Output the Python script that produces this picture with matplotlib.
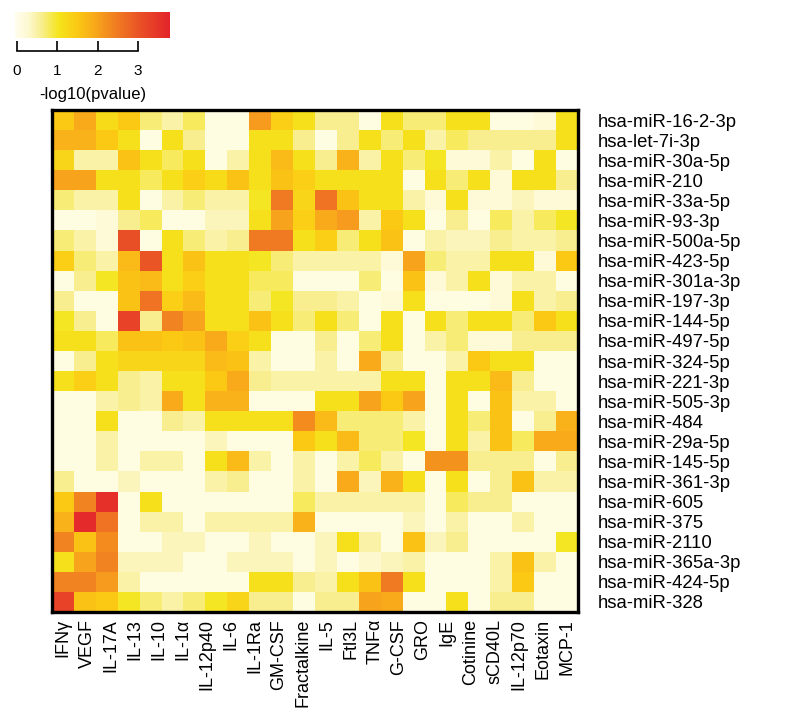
import numpy as np
import matplotlib
matplotlib.use("Agg")
import matplotlib.pyplot as plt
from matplotlib.colors import LinearSegmentedColormap

cytokines = ["IFNγ", "VEGF", "IL-17A", "IL-13", "IL-10", "IL-1α", "IL-12p40", "IL-6",
             "IL-1Ra", "GM-CSF", "Fractalkine", "IL-5", "Ftl3L", "TNFα", "G-CSF", "GRO",
             "IgE", "Cotinine", "sCD40L", "IL-12p70", "Eotaxin", "MCP-1"]
mirnas = ["hsa-miR-16-2-3p", "hsa-let-7i-3p", "hsa-miR-30a-5p", "hsa-miR-210", "hsa-miR-33a-5p",
          "hsa-miR-93-3p", "hsa-miR-500a-5p", "hsa-miR-423-5p", "hsa-miR-301a-3p", "hsa-miR-197-3p",
          "hsa-miR-144-5p", "hsa-miR-497-5p", "hsa-miR-324-5p", "hsa-miR-221-3p", "hsa-miR-505-3p",
          "hsa-miR-484", "hsa-miR-29a-5p", "hsa-miR-145-5p", "hsa-miR-361-3p", "hsa-miR-605",
          "hsa-miR-375", "hsa-miR-2110", "hsa-miR-365a-3p", "hsa-miR-424-5p", "hsa-miR-328"]

row_00 = [1.5, 1.9, 1.2, 1.5, 0.7, 0.5, 0.8, 0.1, 0.1, 2.1, 1.4, 1.1, 0.6, 0.6, 0.1, 1.1, 0.7, 0.7, 1.1, 1.1, 0.1, 0.1, 0.2, 1.1]
row_01 = [1.8, 1.8, 1.5, 1.1, 0.1, 1.1, 0.6, 0.1, 0.1, 1.1, 1.1, 0.6, 0.1, 0.6, 1.1, 0.7, 1.1, 0.5, 0.8, 0.6, 0.6, 0.6, 0.6, 1.1]
row_02 = [1.3, 0.5, 0.5, 1.6, 1.1, 0.8, 1.1, 0.1, 0.5, 1.1, 1.7, 1.1, 0.6, 1.8, 0.5, 1.1, 0.7, 1.0, 0.2, 0.2, 0.5, 0.1, 1.1, 0.1]
row_03 = [2.0, 2.0, 1.1, 1.1, 0.8, 1.1, 1.4, 1.2, 1.6, 1.1, 1.6, 1.4, 1.1, 1.1, 1.1, 1.1, 0.1, 1.1, 0.7, 1.1, 0.2, 1.1, 1.1, 0.6]
row_04 = [0.7, 0.5, 0.5, 1.1, 0.1, 0.5, 0.7, 0.5, 0.5, 1.0, 2.5, 1.3, 2.6, 1.6, 1.1, 1.1, 0.5, 0.2, 1.1, 0.2, 0.2, 0.4, 0.2, 0.2]
row_05 = [0.1, 0.1, 0.2, 0.6, 0.8, 0.1, 0.1, 0.4, 0.4, 1.1, 2.0, 1.4, 1.9, 2.1, 0.5, 1.5, 1.1, 0.1, 0.6, 0.1, 0.8, 0.5, 0.8, 1.0]
row_06 = [0.7, 0.5, 0.2, 3.1, 0.1, 1.1, 0.7, 0.5, 0.6, 2.5, 2.5, 1.1, 1.4, 0.7, 1.1, 1.6, 0.1, 0.5, 0.4, 0.4, 0.6, 0.5, 0.5, 0.6]
row_07 = [1.4, 0.7, 0.5, 1.7, 3.0, 1.1, 1.6, 1.1, 1.1, 1.0, 0.7, 0.5, 0.5, 0.5, 0.5, 0.2, 2.0, 0.7, 0.5, 0.5, 1.1, 1.1, 0.2, 1.5]
row_08 = [0.1, 0.6, 1.0, 1.6, 1.7, 1.1, 1.4, 1.1, 1.1, 0.8, 0.8, 0.1, 0.1, 0.1, 0.7, 0.1, 1.6, 0.2, 0.5, 1.1, 0.2, 0.5, 0.5, 0.1]
row_09 = [0.6, 0.1, 0.1, 1.6, 2.6, 1.4, 1.7, 1.1, 1.1, 0.7, 1.0, 0.6, 0.6, 0.5, 0.1, 0.2, 1.1, 0.1, 0.1, 0.1, 0.2, 1.1, 0.5, 0.6]
row_10 = [1.0, 0.6, 0.1, 3.3, 0.6, 2.4, 2.0, 1.1, 1.1, 1.6, 1.1, 0.7, 1.1, 0.7, 0.1, 1.1, 0.1, 1.1, 0.7, 1.1, 1.1, 0.7, 1.5, 1.1]
row_11 = [1.1, 1.1, 0.8, 1.6, 1.6, 1.5, 1.6, 1.9, 1.4, 1.1, 0.1, 0.1, 0.6, 0.1, 0.7, 1.1, 0.1, 0.5, 0.7, 0.2, 0.2, 0.6, 0.6, 0.6]
row_12 = [0.1, 0.6, 1.1, 1.3, 1.3, 1.3, 1.3, 1.7, 1.6, 0.5, 0.1, 0.1, 0.5, 0.1, 1.9, 0.6, 0.1, 0.1, 0.5, 1.5, 1.1, 1.1, 0.1, 0.1]
row_13 = [1.1, 1.4, 1.1, 0.6, 0.5, 1.1, 1.1, 1.5, 1.9, 0.6, 0.5, 0.5, 0.5, 0.5, 0.5, 1.1, 1.1, 0.1, 1.1, 1.1, 1.7, 0.6, 0.1, 0.1]
row_14 = [0.1, 0.1, 0.5, 0.6, 0.5, 1.9, 1.1, 1.8, 1.8, 0.1, 0.1, 0.1, 1.1, 1.1, 2.0, 1.5, 2.0, 0.1, 1.1, 0.1, 1.6, 0.5, 0.5, 0.1]
row_15 = [0.1, 0.1, 1.1, 0.1, 0.1, 0.6, 0.5, 1.1, 1.1, 1.1, 1.1, 2.3, 1.7, 0.7, 0.7, 0.7, 0.5, 0.1, 1.1, 0.7, 1.6, 0.1, 0.6, 1.8]
row_16 = [0.1, 0.1, 0.5, 0.1, 0.1, 0.1, 0.1, 0.4, 0.1, 0.1, 0.1, 1.5, 1.1, 1.7, 0.7, 0.7, 1.0, 0.1, 1.1, 0.5, 1.6, 0.8, 1.9, 1.9]
row_17 = [0.1, 0.1, 0.5, 0.1, 0.5, 0.5, 0.1, 1.1, 1.7, 0.5, 0.1, 0.5, 0.1, 0.5, 0.8, 0.5, 0.1, 2.2, 2.2, 0.6, 0.6, 0.6, 0.1, 0.6]
row_18 = [0.6, 0.1, 0.1, 0.4, 0.1, 0.1, 0.1, 0.5, 0.6, 0.1, 0.1, 0.5, 0.1, 1.9, 0.4, 1.8, 1.1, 0.1, 1.1, 0.1, 0.6, 1.6, 0.5, 0.5]
row_19 = [1.5, 2.4, 3.6, 0.1, 1.1, 0.1, 0.1, 0.1, 0.1, 0.1, 0.1, 0.8, 0.5, 0.5, 0.5, 0.5, 0.5, 0.1, 0.8, 0.6, 0.6, 0.1, 0.1, 0.1]
row_20 = [1.8, 3.7, 2.6, 0.1, 0.5, 0.5, 0.1, 0.5, 0.5, 0.5, 0.5, 1.8, 0.1, 0.1, 0.1, 0.1, 0.4, 0.1, 0.5, 0.1, 0.1, 0.5, 0.1, 0.1]
row_21 = [2.4, 1.6, 2.3, 0.1, 0.1, 0.4, 0.4, 0.1, 0.1, 0.4, 0.1, 0.1, 0.4, 1.1, 0.5, 0.1, 1.6, 0.4, 0.6, 0.1, 0.1, 0.1, 0.1, 1.0]
row_22 = [1.1, 2.0, 2.4, 0.4, 0.4, 0.4, 0.1, 0.1, 0.4, 0.4, 0.4, 0.1, 0.4, 0.1, 0.3, 0.4, 0.5, 0.1, 0.1, 0.1, 0.5, 1.6, 0.5, 0.1]
row_23 = [2.4, 2.4, 2.1, 0.5, 0.1, 0.1, 0.1, 0.1, 0.1, 1.1, 1.1, 0.6, 0.5, 1.1, 1.6, 2.5, 1.1, 0.1, 0.1, 0.1, 0.5, 1.5, 0.1, 0.1]
row_24 = [3.3, 1.6, 1.5, 1.0, 0.7, 0.5, 0.7, 1.0, 1.3, 0.6, 0.6, 0.1, 0.6, 0.6, 2.0, 1.9, 0.1, 0.1, 1.1, 0.1, 0.6, 0.6, 0.1, 0.1]

values = np.array([row_00, row_01, row_02, row_03, row_04, row_05, row_06, row_07, row_08,
                   row_09, row_10, row_11, row_12, row_13, row_14, row_15, row_16, row_17,
                   row_18, row_19, row_20, row_21, row_22, row_23, row_24])

cbar_ticks = [0, 1, 2, 3]
VMAX = 3.8

plt.rcParams['font.family'] = ['Liberation Sans', 'DejaVu Sans']

cmap = LinearSegmentedColormap.from_list("heat", [
    (0.00, "#FFFDEA"),
    (0.08, "#FDF8CC"),
    (0.16, "#F8EE8E"),
    (0.27, "#F5E51C"),
    (0.40, "#FBC814"),
    (0.53, "#F7A21C"),
    (0.66, "#F07A22"),
    (0.80, "#EA5326"),
    (1.00, "#E3242B"),
])

W, H = 800, 723
fig = plt.figure(figsize=(W / 100, H / 100), dpi=100)

# main heatmap
ax = fig.add_axes([52 / W, 1 - 612 / H, 526 / W, 502 / H])
nrow, ncol = values.shape
ax.pcolormesh(np.arange(ncol + 1), np.arange(nrow + 1), values, cmap=cmap,
              vmin=0, vmax=VMAX, shading='flat')
ax.set_xlim(0, ncol)
ax.set_ylim(nrow, 0)
for s in ax.spines.values():
    s.set_linewidth(2.4)
    s.set_color("black")

ax.yaxis.tick_right()
ax.set_yticks(np.arange(nrow) + 0.5)
ax.set_yticklabels(mirnas, fontsize=13.3)
lab_pos = 0.5 + np.arange(len(cytokines)) * (ncol - 1) / (len(cytokines) - 1)
ax.set_xticks(lab_pos)
ax.set_xticklabels(cytokines, rotation=90, fontsize=13)
ax.tick_params(axis='both', length=0)
ax.tick_params(axis='y', pad=14)
ax.tick_params(axis='x', pad=5)

# colour key
cax = fig.add_axes([15 / W, 1 - 38 / H, 155 / W, 26 / H])
grad = np.linspace(-0.05, VMAX, 256).reshape(1, -1)
cax.imshow(grad, aspect='auto', cmap=cmap, vmin=0, vmax=VMAX,
           extent=[-0.05, VMAX, 0, 1])
cax.set_xlim(-0.05, VMAX)
cax.set_ylim(0, 1)
for side in ['top', 'left', 'right']:
    cax.spines[side].set_visible(False)
cax.spines['bottom'].set_position(('outward', 9))
cax.spines['bottom'].set_bounds(0, 3)
cax.spines['bottom'].set_linewidth(1.2)
cax.set_yticks([])
cax.set_xticks(cbar_ticks)
cax.set_xticklabels([str(t) for t in cbar_ticks], fontsize=11)
cax.tick_params(axis='x', direction='in', length=7, width=1.2, pad=10)
cax.set_xlabel("-log10(pvalue)", fontsize=12, labelpad=6)

fig.savefig("out.png", dpi=100)
